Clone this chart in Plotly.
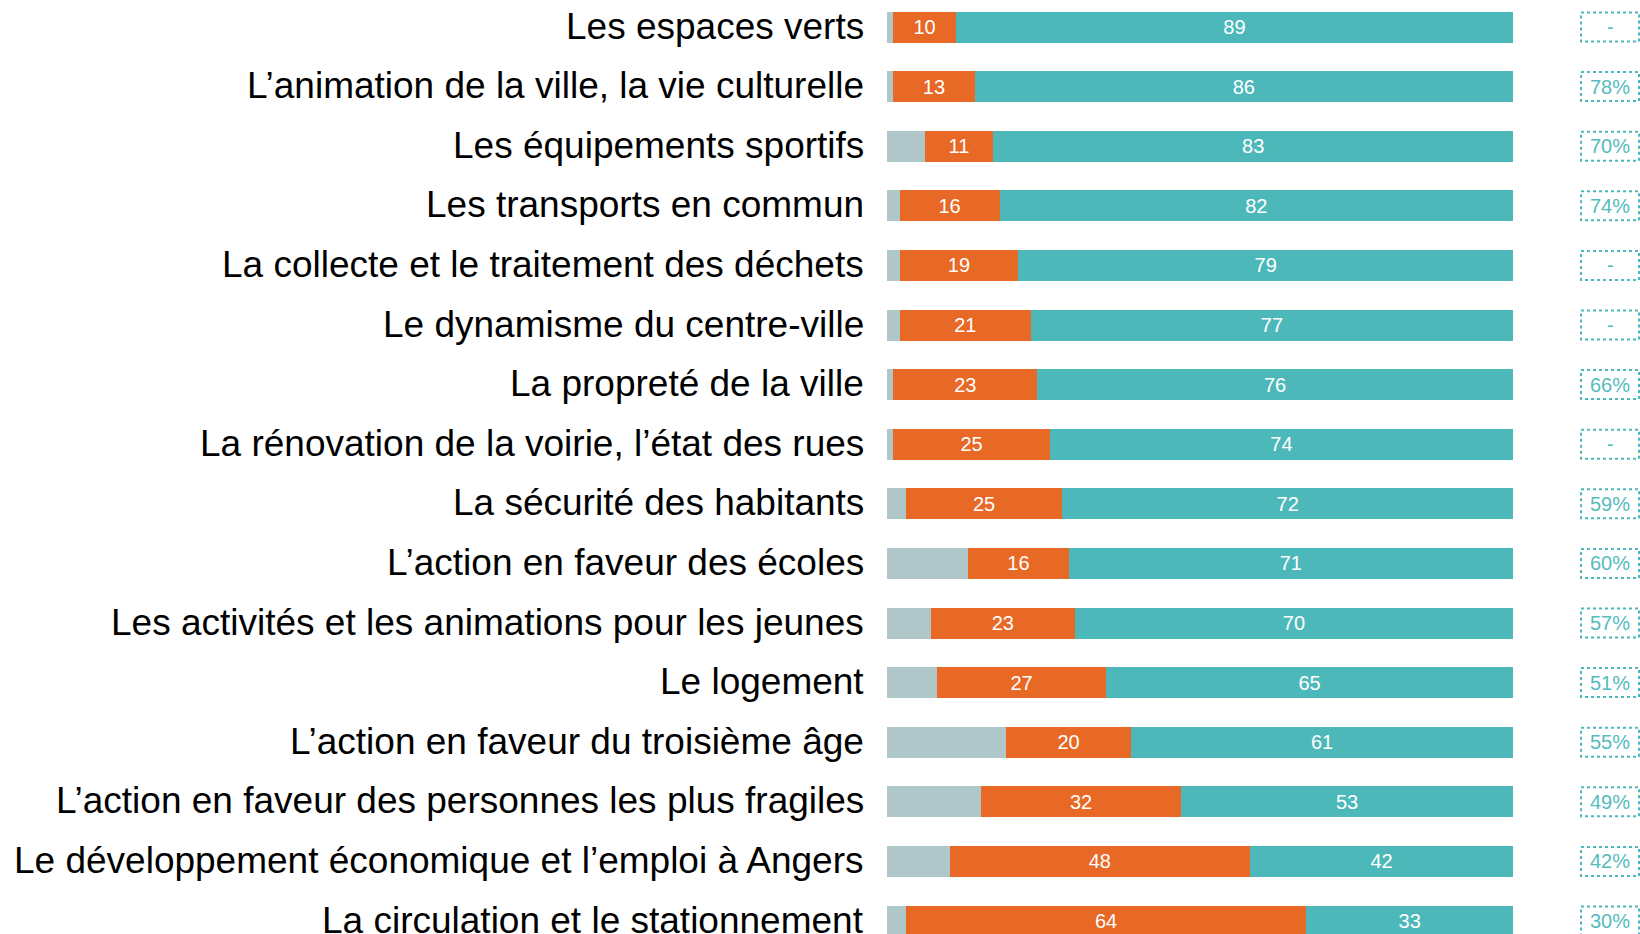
import plotly.graph_objects as go

categories = [
    "Les espaces verts",
    "L’animation de la ville, la vie culturelle",
    "Les équipements sportifs",
    "Les transports en commun",
    "La collecte et le traitement des déchets",
    "Le dynamisme du centre-ville",
    "La propreté de la ville",
    "La rénovation de la voirie, l’état des rues",
    "La sécurité des habitants",
    "L’action en faveur des écoles",
    "Les activités et les animations pour les jeunes",
    "Le logement",
    "L’action en faveur du troisième âge",
    "L’action en faveur des personnes les plus fragiles",
    "Le développement économique et l’emploi à Angers",
    "La circulation et le stationnement",
]
grey_vals = [1, 1, 6, 2, 2, 2, 1, 1, 3, 13, 7, 8, 19, 15, 10, 3]
orange_vals = [10, 13, 11, 16, 19, 21, 23, 25, 25, 16, 23, 27, 20, 32, 48, 64]
teal_vals = [89, 86, 83, 82, 79, 77, 76, 74, 72, 71, 70, 65, 61, 53, 42, 33]
previous_labels = ["-", "78%", "70%", "74%", "-", "-", "66%", "-", "59%",
                   "60%", "57%", "51%", "55%", "49%", "42%", "30%"]

GREY = "#B0C7C9"
ORANGE = "#E86826"
TEAL = "#4DB8B9"
BOX_TEXT = "#55BCBD"
FONT = "Liberation Sans, Arial, sans-serif"

W, H = 1640, 934
PLOT_L, PLOT_R = 887, 1513
LABEL_R = 865
ROW0, ROWH = 27.0, 59.6
BOX_L, BOX_R, BOX_H = 1581, 1639, 29

fig = go.Figure()
fig.add_trace(go.Bar(y=categories, x=grey_vals, orientation="h",
                     marker=dict(color=GREY, line=dict(width=0)),
                     hoverinfo="skip"))
fig.add_trace(go.Bar(y=categories, x=orange_vals, orientation="h",
                     marker=dict(color=ORANGE, line=dict(width=0)),
                     text=orange_vals, textposition="inside",
                     insidetextanchor="middle", constraintext="none",
                     textangle=0,
                     textfont=dict(color="white", size=20, family=FONT)))
fig.add_trace(go.Bar(y=categories, x=teal_vals, orientation="h",
                     marker=dict(color=TEAL, line=dict(width=0)),
                     text=teal_vals, textposition="inside",
                     insidetextanchor="middle", constraintext="none",
                     textangle=0,
                     textfont=dict(color="white", size=20, family=FONT)))

pw = PLOT_R - PLOT_L
bx0 = (BOX_L - PLOT_L) / pw
bx1 = (BOX_R - PLOT_L) / pw
lx = (LABEL_R - PLOT_L) / pw
half = BOX_H / ROWH / 2

# category labels (placed on the category axis positions)
for i, cat in enumerate(categories):
    fig.add_annotation(xref="paper", yref="y", x=lx, y=i, text=cat,
                       showarrow=False, xanchor="right", yanchor="middle",
                       yshift=1, borderpad=0,
                       font=dict(color="black", size=37, family=FONT))

for i, lab in enumerate(previous_labels):
    fig.add_shape(type="rect", xref="paper", yref="y",
                  x0=bx0, x1=bx1, y0=i - half, y1=i + half,
                  line=dict(color=TEAL, width=2, dash="dot"),
                  fillcolor="white")
    fig.add_annotation(xref="paper", yref="y", x=(bx0 + bx1) / 2, y=i,
                       text=lab, showarrow=False, xanchor="center",
                       yanchor="middle",
                       font=dict(color=BOX_TEXT, size=20, family=FONT))

y_top = -ROW0 / ROWH
y_bot = (H - ROW0) / ROWH

fig.update_layout(
    width=W, height=H,
    margin=dict(l=PLOT_L, r=W - PLOT_R, t=0, b=0, pad=0, autoexpand=False),
    barmode="stack", bargap=1 - 31 / ROWH,
    showlegend=False,
    plot_bgcolor="white", paper_bgcolor="white",
    xaxis=dict(range=[0, 100], visible=False, fixedrange=True,
               automargin=False),
    yaxis=dict(type="category", range=[y_bot, y_top], automargin=False,
               showgrid=False, zeroline=False, showline=False,
               ticks="", showticklabels=False, fixedrange=True),
    font=dict(family=FONT),
)

fig.write_html("out.html", config={"displayModeBar": False},
               post_script="document.body.style.margin='0';")
